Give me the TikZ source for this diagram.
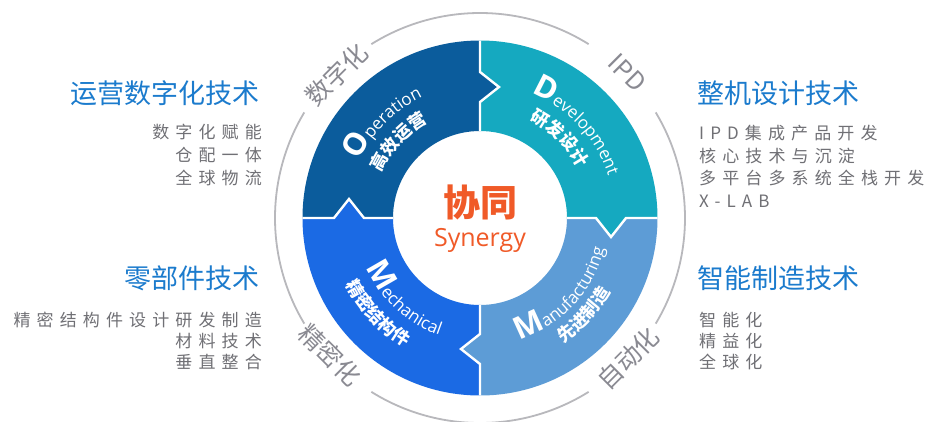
\documentclass[tikz,border=0pt]{standalone}
\usepackage{fontspec}
\setmainfont{Noto Sans CJK SC}
\newfontfamily\latinfont{Open Sans}
\newfontfamily\spacedfont{Noto Sans CJK SC}[LetterSpace=36]
\usetikzlibrary{decorations.text}
\definecolor{opblue}{HTML}{0B5C9C}
\definecolor{devteal}{HTML}{15A9C0}
\definecolor{manblue}{HTML}{5D9CD6}
\definecolor{mechblue}{HTML}{1B6AE4}
\definecolor{titleblue}{HTML}{1B7BCD}
\definecolor{subgray}{HTML}{707075}
\definecolor{labgray}{HTML}{8A8A92}
\definecolor{arcgray}{HTML}{B8B8BC}
\definecolor{synorange}{HTML}{F05A28}
\newcommand\bigL{\fontsize{31}{31}\selectfont\latinfont\bfseries}
\newcommand\smallL{\fontsize{17}{17}\selectfont\latinfont}
\newcommand\ringCJK{\fontsize{17.5}{17.5}\selectfont\bfseries}
\begin{document}
\begin{tikzpicture}[x=1pt,y=1pt,
  divider/.style={draw=white,line width=2.4pt,line join=miter},
  grayarc/.style={draw=arcgray,line width=1.8pt},
  lab/.style={text=labgray,font=\fontsize{25}{25}\selectfont,inner sep=0pt},
  title/.style={text=titleblue,font=\fontsize{27}{27}\selectfont,inner sep=0pt},
  sub/.style={text=subgray,font=\spacedfont\fontsize{17}{17}\selectfont,inner sep=0pt}]
\fill[white] (-480,-203) rectangle (445,218);
\useasboundingbox (-480,-203) rectangle (445,218);
% ring segments
\fill[opblue] (0,177.5) -- (0,146) -- (19,131) -- (0,116) -- (0,87) arc (90:180:87) -- (-116,0) -- (-131,19) -- (-146,0) -- (-177.5,0) arc (180:90:177.5) -- cycle;
\fill[devteal] (0,177.5) arc (90:0:177.5) -- (146,0) -- (131,-19) -- (116,0) -- (87,0) arc (0:90:87) -- (0,116) -- (19,131) -- (0,146) -- cycle;
\fill[manblue] (177.5,0) arc (0:-90:177.5) -- (0,-146) -- (-19,-131) -- (0,-116) -- (0,-87) arc (-90:0:87) -- (116,0) -- (131,-19) -- (146,0) -- cycle;
\fill[mechblue] (0,-177.5) arc (270:180:177.5) -- (-146,0) -- (-131,19) -- (-116,0) -- (-87,0) arc (180:270:87) -- (0,-116) -- (-19,-131) -- (0,-146) -- cycle;
\draw[divider] (0,177.5) -- (0,146) -- (19,131) -- (0,116) -- (0,87);
\draw[divider] (177.5,0) -- (146,0) -- (131,-19) -- (116,0) -- (87,0);
\draw[divider] (0,-177.5) -- (0,-146) -- (-19,-131) -- (0,-116) -- (0,-87);
\draw[divider] (-177.5,0) -- (-146,0) -- (-131,19) -- (-116,0) -- (-87,0);
% ring texts
\path[decorate,decoration={text along path,text align=center,text color=white,
  text={|\bigL|O|\smallL|peration}}] (180:134) arc (180:90:134);
\path[decorate,decoration={text along path,text align=center,text color=white,
  text={|\ringCJK|高效运营}}] (182:108.5) arc (182:92:108.5);
\path[decorate,decoration={text along path,text align=center,text color=white,
  text={|\bigL|D|\smallL|evelopment}}] (88:135) arc (88:-2:135);
\path[decorate,decoration={text along path,text align=center,text color=white,
  text={|\ringCJK|研发设计}}] (90:110) arc (90:0:110);
\path[decorate,decoration={text along path,text align=center,text color=white,
  text={|\bigL|M|\smallL|anufacturing}}] (-88:128) arc (-88:2:128);
\path[decorate,decoration={text along path,text align=center,text color=white,
  text={|\ringCJK|先进制造}}] (-88:150) arc (-88:2:150);
\path[decorate,decoration={text along path,text align=center,text color=white,
  text={|\bigL|M|\smallL|echanical}}] (182:124) arc (182:272:124);
\path[decorate,decoration={text along path,text align=center,text color=white,
  text={|\ringCJK|精密结构件}}] (178:149.5) arc (178:268:149.5);
% center
\node[text=synorange,font=\fontsize{37}{37}\selectfont\bfseries,anchor=base,inner sep=0pt] (xt) at (0,2) {协同};
\node[text=synorange,font=\latinfont\fontsize{25}{25}\selectfont,anchor=base,inner sep=0pt] (syn) at (0,-28) {Synergy};
% outer gray arcs
\draw[grayarc] (58:205) arc (58:122:205);
\draw[grayarc] (149:205) arc (149:211:205);
\draw[grayarc] (238:205) arc (238:302:205);
\draw[grayarc] (-31:205) arc (-31:31:205);
\node[lab,rotate=45] (l1) at (135:203) {数字化};
\node[lab,rotate=-45] (l2) at (44.6:207) {IPD};
\node[lab,rotate=-45] (l3) at (222.4:203) {精密化};
\node[lab,rotate=45] (l4) at (-43.4:204) {自动化};
% left top
\node[title,anchor=base east] (t1) at (-220,115) {运营数字化技术};
\node[sub,anchor=base east] (t1a) at (-218,79.5) {数字化赋能};
\node[sub,anchor=base east] (t1b) at (-218,56.5) {仓配一体};
\node[sub,anchor=base east] (t1c) at (-218,33.5) {全球物流};
% left bottom
\node[title,anchor=base east] (t2) at (-220,-70) {零部件技术};
\node[sub,anchor=base east] (t2a) at (-218,-108.5) {精密结构件设计研发制造};
\node[sub,anchor=base east] (t2b) at (-218,-129.5) {材料技术};
\node[sub,anchor=base east] (t2c) at (-218,-150) {垂直整合};
% right top
\node[title,anchor=base west] (t3) at (217,115) {整机设计技术};
\node[sub,anchor=base west] (t3a) at (219,78.5) {IPD集成产品开发};
\node[sub,anchor=base west] (t3b) at (219,56) {核心技术与沉淀};
\node[sub,anchor=base west] (t3c) at (219,33.5) {多平台多系统全栈开发};
\node[sub,anchor=base west] (t3d) at (219,11) {X-LAB};
% right bottom
\node[title,anchor=base west] (t4) at (217,-70) {智能制造技术};
\node[sub,anchor=base west] (t4a) at (219,-108.5) {智能化};
\node[sub,anchor=base west] (t4b) at (219,-129.5) {精益化};
\node[sub,anchor=base west] (t4c) at (219,-150) {全球化};
\end{tikzpicture}
\end{document}
